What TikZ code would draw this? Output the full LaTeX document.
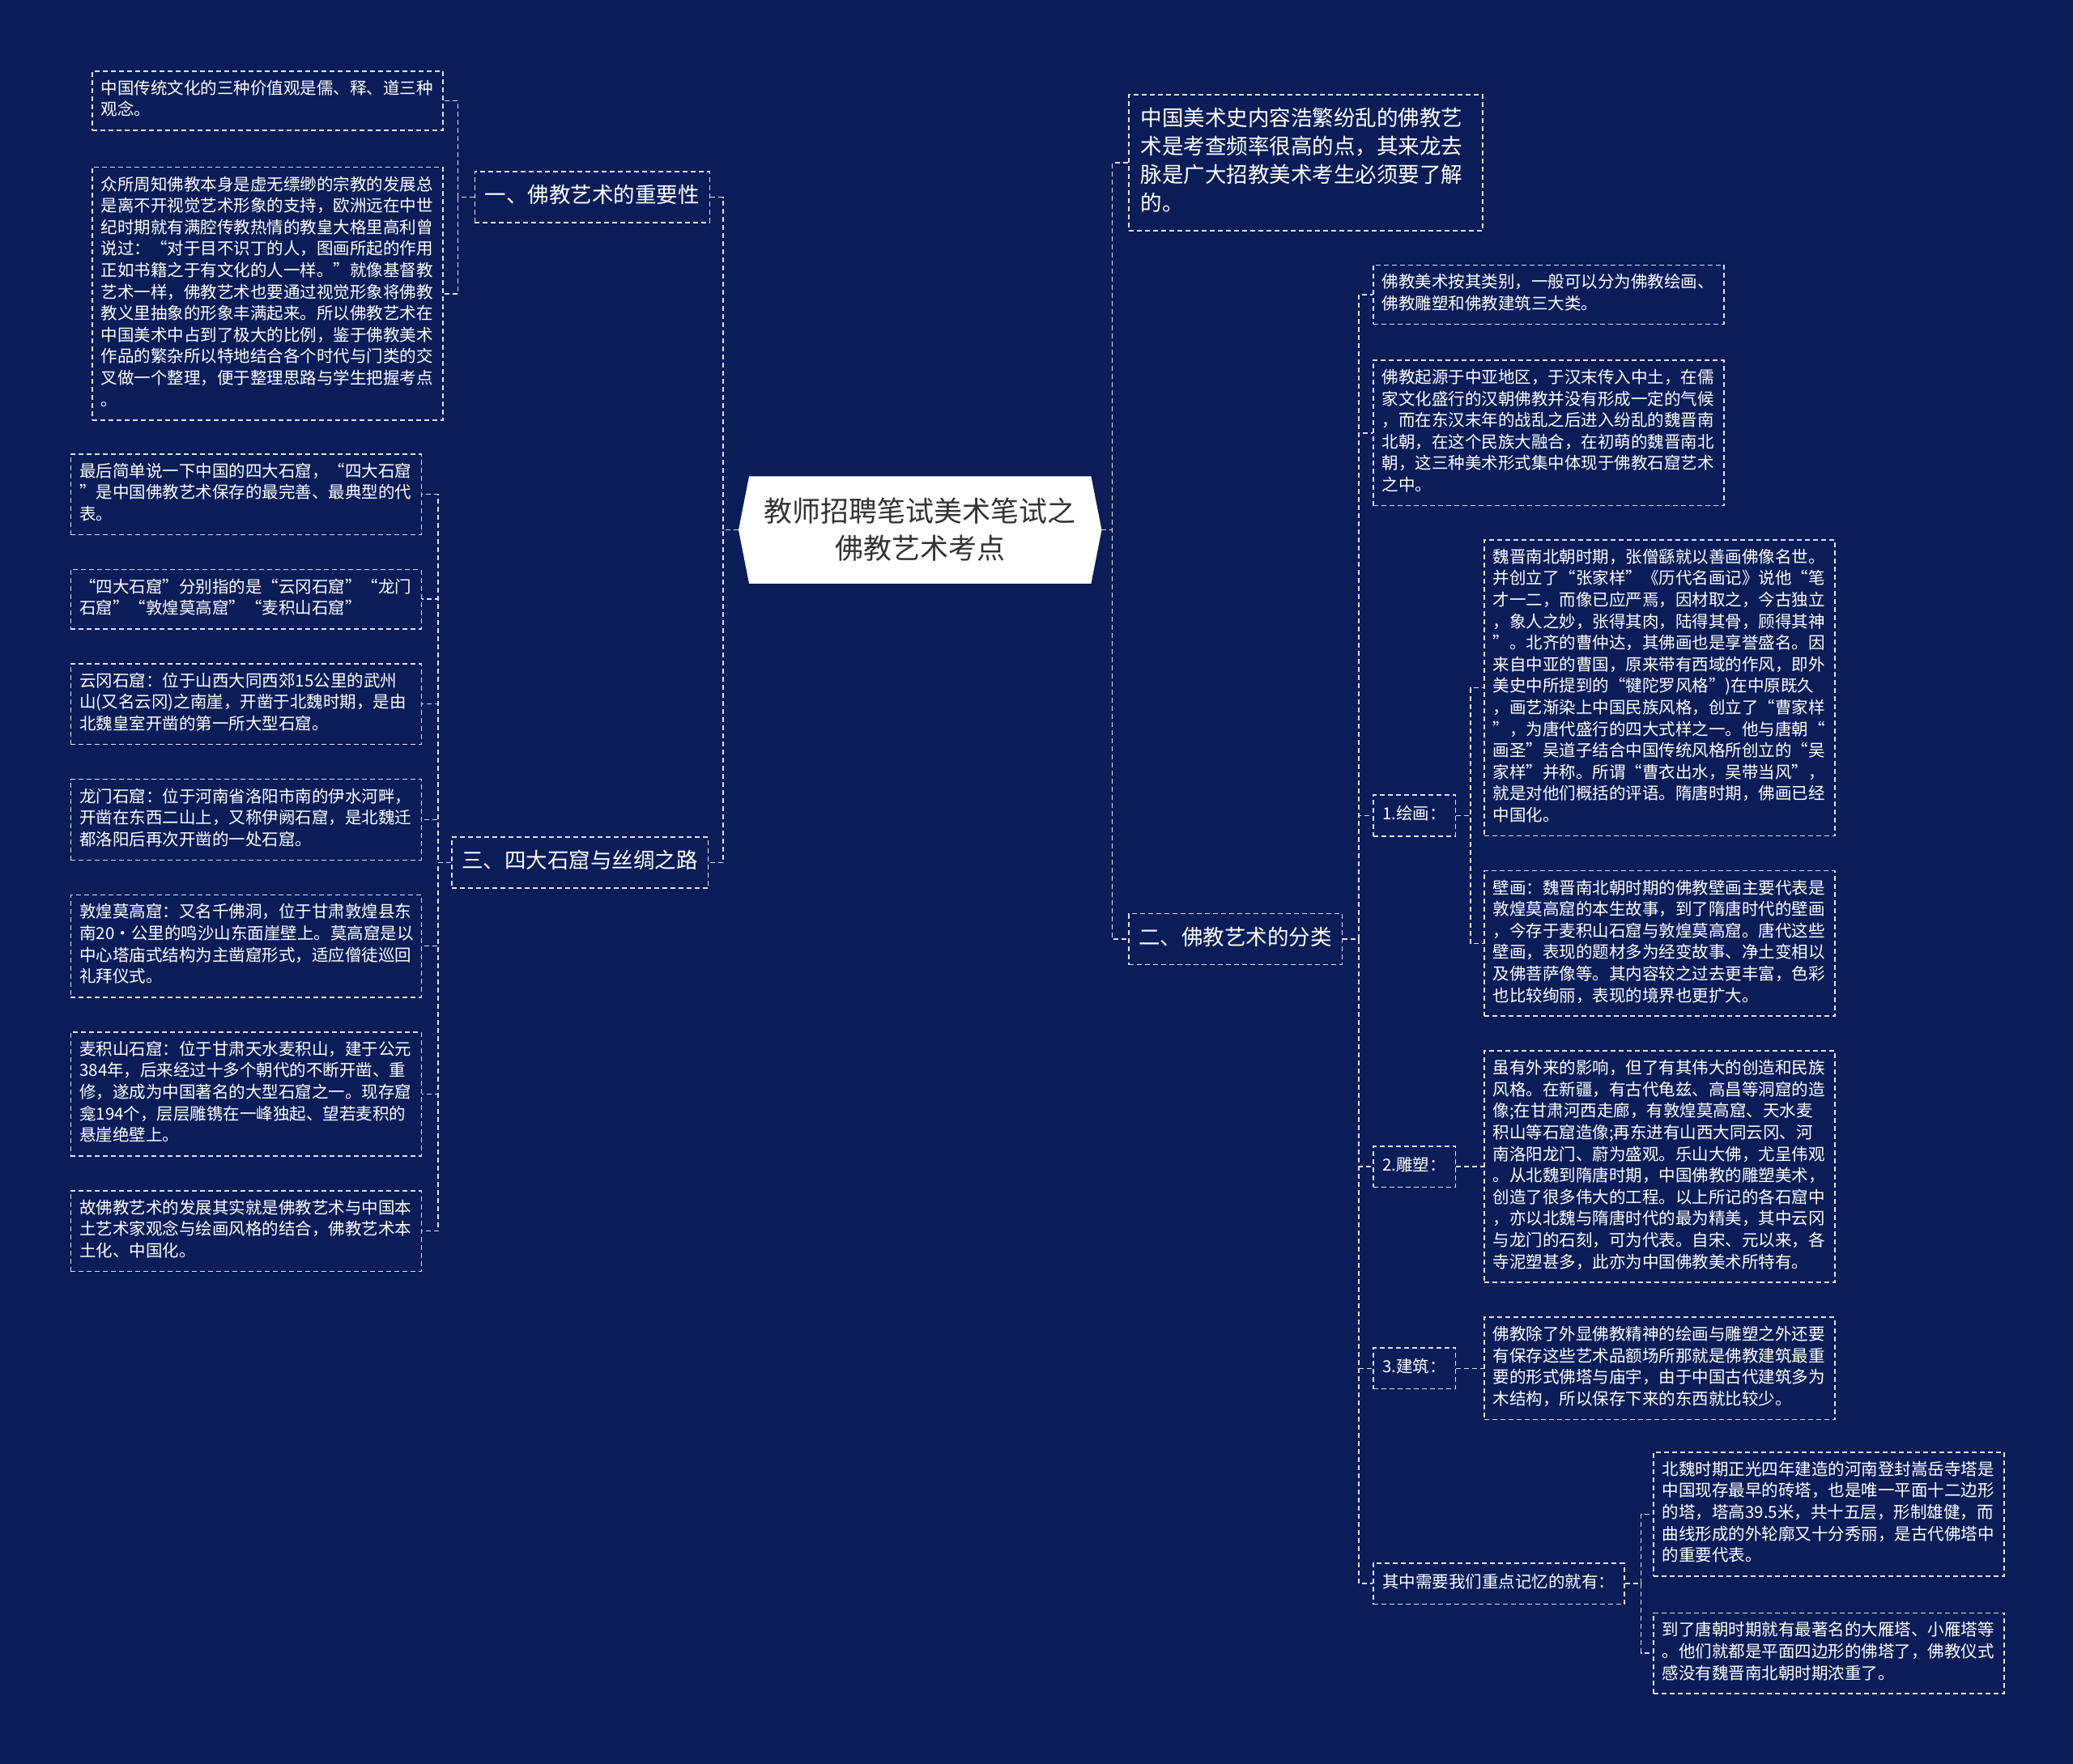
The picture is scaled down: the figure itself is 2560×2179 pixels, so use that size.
\documentclass[tikz,border=0pt]{standalone}
\usepackage{fontspec}
\setmainfont{Noto Sans CJK SC}
\usetikzlibrary{positioning, calc, backgrounds}
\definecolor{mapnavy}{RGB}{10,29,89}
\definecolor{mapline}{RGB}{222,226,236}
\definecolor{hubtext}{RGB}{51,51,51}
\newcommand{\leaffont}{\fontsize{20.5pt}{26.6pt}\selectfont}
\newcommand{\topicfont}{\fontsize{26.5pt}{35pt}\selectfont}
\newcommand{\hubfont}{\fontsize{35pt}{46pt}\selectfont}

\begin{document}
\begin{tikzpicture}[
  x=1pt, y=-1pt,
  leaf/.style={rectangle, draw=mapline, line width=1.5pt, dash pattern=on 6pt off 4pt,
               text=white, font=\leaffont, align=left, text width=411pt,
               inner xsep=11pt, inner ysep=10pt,
               execute at begin node=\strut, execute at end node=\strut},
  topic/.style={rectangle, draw=mapline, line width=1.5pt, dash pattern=on 6pt off 4pt,
               text=white, font=\topicfont, align=left,
               inner xsep=12.5pt, inner ysep=14pt,
               execute at begin node=\strut, execute at end node=\strut},
  subtopic/.style={rectangle, draw=mapline, line width=1.5pt, dash pattern=on 6pt off 4pt,
               text=white, font=\leaffont, inner xsep=11.5pt, inner ysep=12pt,
               execute at begin node=\strut},
  hub/.style={rectangle, minimum width=448pt, minimum height=132pt, inner sep=0pt,
               text=hubtext, font=\hubfont, align=center},
  link/.style={draw=mapline, line width=1.5pt, dash pattern=on 6pt off 4pt}
]
  \useasboundingbox (0,0) rectangle (2560,2179);

  % left: importance
  \node[leaf, anchor=north west] (trio) at (113,87)
    {中国传统文化的三种价值观是儒、释、道三种\\观念。};
  \node[leaf, below=44pt of trio] (need)
    {众所周知佛教本身是虚无缥缈的宗教的发展总\\是离不开视觉艺术形象的支持，欧洲远在中世\\纪时期就有满腔传教热情的教皇大格里高利曾\\说过：“对于目不识丁的人，图画所起的作用\\正如书籍之于有文化的人一样。”就像基督教\\艺术一样，佛教艺术也要通过视觉形象将佛教\\教义里抽象的形象丰满起来。所以佛教艺术在\\中国美术中占到了极大的比例，鉴于佛教美术\\作品的繁杂所以特地结合各个时代与门类的交\\叉做一个整理，便于整理思路与学生把握考点\\。};
  \node[topic, anchor=west] (imp) at ($(trio.east)!.5!(need.east) + (38,0)$)
    {一、佛教艺术的重要性};

  % left: four grottoes
  \node[leaf, anchor=north west] (last) at (86.5,560)
    {最后简单说一下中国的四大石窟，“四大石窟\\”是中国佛教艺术保存的最完善、最典型的代\\表。};
  \node[leaf, below=41.5pt of last] (four)
    {“四大石窟”分别指的是“云冈石窟”“龙门\\石窟”“敦煌莫高窟”“麦积山石窟”};
  \node[leaf, below=41.5pt of four] (yungang)
    {云冈石窟：位于山西大同西郊15公里的武州\\山(又名云冈)之南崖，开凿于北魏时期，是由\\北魏皇室开凿的第一所大型石窟。};
  \node[leaf, below=41.5pt of yungang] (longmen)
    {龙门石窟：位于河南省洛阳市南的伊水河畔，\\开凿在东西二山上，又称伊阙石窟，是北魏迁\\都洛阳后再次开凿的一处石窟。};
  \node[leaf, below=41.5pt of longmen] (dunhuang)
    {敦煌莫高窟：又名千佛洞，位于甘肃敦煌县东\\南20·公里的鸣沙山东面崖壁上。莫高窟是以\\中心塔庙式结构为主凿窟形式，适应僧徒巡回\\礼拜仪式。};
  \node[leaf, below=41.5pt of dunhuang] (maiji)
    {麦积山石窟：位于甘肃天水麦积山，建于公元\\384年，后来经过十多个朝代的不断开凿、重\\修，遂成为中国著名的大型石窟之一。现存窟\\龛194个，层层雕镌在一峰独起、望若麦积的\\悬崖绝壁上。};
  \node[leaf, below=41.5pt of maiji] (merge)
    {故佛教艺术的发展其实就是佛教艺术与中国本\\土艺术家观念与绘画风格的结合，佛教艺术本\\土化、中国化。};
  \node[topic, anchor=west] (cave) at ($(last.east)!.5!(merge.east) + (36,0)$)
    {三、四大石窟与丝绸之路};

  % centre
  \node[hub] (hub) at ($(imp.west)!.5!(cave.west) + (565,0)$)
    {教师招聘笔试美术笔试之\\佛教艺术考点};

  % right: intro and classes
  \node[topic, text width=407pt, inner xsep=15pt, anchor=north west] (intro) at (1393,116)
    {中国美术史内容浩繁纷乱的佛教艺\\术是考查频率很高的点，其来龙去\\脉是广大招教美术考生必须要了解\\的。};
  \node[leaf, anchor=north west] (kinds) at (1695,326.5)
    {佛教美术按其类别，一般可以分为佛教绘画、\\佛教雕塑和佛教建筑三大类。};
  \node[leaf, below=43pt of kinds] (origin)
    {佛教起源于中亚地区，于汉末传入中土，在儒\\家文化盛行的汉朝佛教并没有形成一定的气候\\，而在东汉末年的战乱之后进入纷乱的魏晋南\\北朝，在这个民族大融合，在初萌的魏晋南北\\朝，这三种美术形式集中体现于佛教石窟艺术\\之中。};
  \node[leaf, anchor=north west] (zhang) at (1832,666)
    {魏晋南北朝时期，张僧繇就以善画佛像名世。\\并创立了“张家样”《历代名画记》说他“笔\\才一二，而像已应严焉，因材取之，今古独立\\，象人之妙，张得其肉，陆得其骨，顾得其神\\”。北齐的曹仲达，其佛画也是享誉盛名。因\\来自中亚的曹国，原来带有西域的作风，即外\\美史中所提到的“犍陀罗风格”)在中原既久\\，画艺渐染上中国民族风格，创立了“曹家样\\”，为唐代盛行的四大式样之一。他与唐朝“\\画圣”吴道子结合中国传统风格所创立的“吴\\家样”并称。所谓“曹衣出水，吴带当风”，\\就是对他们概括的评语。隋唐时期，佛画已经\\中国化。};
  \node[leaf, below=41.5pt of zhang] (mural)
    {壁画：魏晋南北朝时期的佛教壁画主要代表是\\敦煌莫高窟的本生故事，到了隋唐时代的壁画\\，今存于麦积山石窟与敦煌莫高窟。唐代这些\\壁画，表现的题材多为经变故事、净土变相以\\及佛菩萨像等。其内容较之过去更丰富，色彩\\也比较绚丽，表现的境界也更扩大。};
  \node[leaf, below=41.5pt of mural] (statue)
    {虽有外来的影响，但了有其伟大的创造和民族\\风格。在新疆，有古代龟兹、高昌等洞窟的造\\像;在甘肃河西走廊，有敦煌莫高窟、天水麦\\积山等石窟造像;再东进有山西大同云冈、河\\南洛阳龙门、蔚为盛观。乐山大佛，尤呈伟观\\。从北魏到隋唐时期，中国佛教的雕塑美术，\\创造了很多伟大的工程。以上所记的各石窟中\\，亦以北魏与隋唐时代的最为精美，其中云冈\\与龙门的石刻，可为代表。自宋、元以来，各\\寺泥塑甚多，此亦为中国佛教美术所特有。};
  \node[leaf, below=41.5pt of statue] (temple)
    {佛教除了外显佛教精神的绘画与雕塑之外还要\\有保存这些艺术品额场所那就是佛教建筑最重\\要的形式佛塔与庙宇，由于中国古代建筑多为\\木结构，所以保存下来的东西就比较少。};
  \node[leaf, anchor=north west] (song) at (2041,1793)
    {北魏时期正光四年建造的河南登封嵩岳寺塔是\\中国现存最早的砖塔，也是唯一平面十二边形\\的塔，塔高39.5米，共十五层，形制雄健，而\\曲线形成的外轮廓又十分秀丽，是古代佛塔中\\的重要代表。};
  \node[leaf, below=44pt of song] (tang)
    {到了唐朝时期就有最著名的大雁塔、小雁塔等\\。他们就都是平面四边形的佛塔了，佛教仪式\\感没有魏晋南北朝时期浓重了。};
  \node[subtopic, anchor=west] (paint) at ($(zhang.west)!.5!(mural.west) + (-137,0)$) {1.绘画：};
  \node[subtopic, anchor=west] (sculpt) at ([xshift=-137pt]statue.west) {2.雕塑：};
  \node[subtopic, anchor=west] (build) at ([xshift=-137pt]temple.west) {3.建筑：};
  \node[subtopic, anchor=west] (keys) at ($(song.west)!.5!(tang.west) + (-346,0)$)
    {其中需要我们重点记忆的就有：};
  \node[topic, anchor=west] (cls) at ($(kinds.west)!.5!(keys.west) + (-302,0)$)
    {二、佛教艺术的分类};

  % connectors
  \draw[link] (hub.west) -- ++(-19,0) |- (imp.east);
  \draw[link] (hub.west) -- ++(-19,0) |- (cave.east);
  \foreach \leafname in {trio, need}
    \draw[link] (imp.west) -- ++(-20,0) |- (\leafname.east);
  \foreach \leafname in {last, four, yungang, longmen, dunhuang, maiji, merge}
    \draw[link] (cave.west) -- ++(-16,0) |- (\leafname.east);
  \draw[link] (hub.east) -- ++(13,0) |- (intro.west);
  \draw[link] (hub.east) -- ++(13,0) |- (cls.west);
  \foreach \leafname in {kinds, origin, paint, sculpt, build, keys}
    \draw[link] (cls.east) -- ++(20,0) |- (\leafname.west);
  \foreach \leafname in {zhang, mural}
    \draw[link] (paint.east) -- ++(18,0) |- (\leafname.west);
  \draw[link] (sculpt.east) -- (statue.west);
  \draw[link] (build.east) -- (temple.west);
  \foreach \leafname in {song, tang}
    \draw[link] (keys.east) -- ++(20,0) |- (\leafname.west);

  \begin{scope}[on background layer]
    \fill[mapnavy] (0,0) rectangle (2560,2179);
    \fill[white] ([xshift=13pt]hub.north west) -- ([xshift=-13pt]hub.north east) -- (hub.east)
      -- ([xshift=-13pt]hub.south east) -- ([xshift=13pt]hub.south west) -- (hub.west) -- cycle;
  \end{scope}
\end{tikzpicture}
\end{document}
